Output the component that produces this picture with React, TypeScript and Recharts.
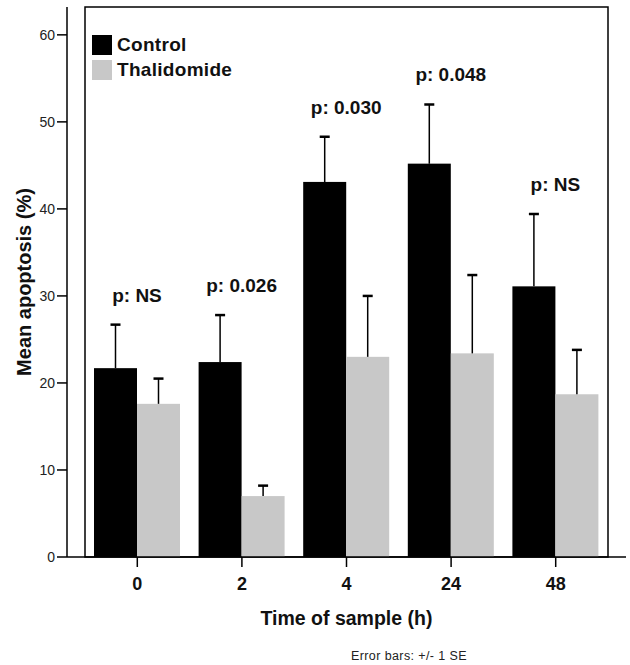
import { BarChart, Bar, XAxis, YAxis, Legend, Label, LabelList, ReferenceArea } from "recharts"

const categories = ["0", "2", "4", "24", "48"]
const controlMean = [21.7, 22.4, 43.1, 45.2, 31.1]
const controlSE = [5.0, 5.4, 5.2, 6.8, 8.3]
const thalMean = [17.6, 7.0, 23.0, 23.4, 18.7]
const thalSE = [2.9, 1.2, 7.0, 9.0, 5.1]
const pValues = ["p: NS", "p: 0.026", "p: 0.030", "p: 0.048", "p: NS"]
const yTicks = [0, 10, 20, 30, 40, 50, 60]
const yMax = 63.2

const data = categories.map((c, i) => ({
  time: c,
  control: controlMean[i],
  controlSE: controlSE[i],
  thal: thalMean[i],
  thalSE: thalSE[i],
  p: pValues[i],
}))

const FONT = "'Liberation Sans', Arial, sans-serif"

// bar + upward-only error bar (SPSS style), error length taken from the bar's own px/unit
const barWithError = (meanKey: string, seKey: string) => (props: any) => {
  const { x, y, width, height, fill, payload } = props
  const mean = payload[meanKey]
  const se = payload[seKey]
  const ppu = mean ? height / mean : 0
  const top = y - se * ppu
  const cx = x + width / 2
  return (
    <g>
      <rect x={x} y={y} width={width} height={height} fill={fill} />
      <line x1={cx} x2={cx} y1={y} y2={top} stroke="#000" strokeWidth={1.5} />
      <line x1={cx - 5} x2={cx + 5} y1={top} y2={top} stroke="#000" strokeWidth={2.5} />
    </g>
  )
}

const PLabel = (props: any) => {
  const { x, y, width, height, index, value } = props
  const i = index ?? 0
  const ppu = height / controlMean[i]
  const hi = Math.max(controlMean[i] + controlSE[i], thalMean[i] + thalSE[i])
  const top = y + height - hi * ppu
  return (
    <text x={x + width} y={top - 23} textAnchor="middle" fontFamily={FONT} fontWeight="bold" fontSize={19} fill="#111">
      {value}
    </text>
  )
}

const LegendBox = () => (
  <div style={{ fontFamily: FONT, fontWeight: "bold", fontSize: 19, color: "#111" }}>
    {[
      { name: "Control", color: "#000" },
      { name: "Thalidomide", color: "#c8c8c8" },
    ].map((it) => (
      <div key={it.name} style={{ display: "flex", alignItems: "center", height: 25 }}>
        <span style={{ width: 20, height: 20, background: it.color, marginRight: 5, display: "inline-block" }} />
        <span style={{ letterSpacing: 0.3 }}>{it.name}</span>
      </div>
    ))}
  </div>
)

export default function App() {
  return (
    <div style={{ position: "absolute", left: 0, top: 0 }}>
      <BarChart
        width={630}
        height={665}
        data={data}
        margin={{ top: 7, right: 4, left: 0, bottom: 0 }}
        barGap={0}
        barSize={43}
        style={{ fontFamily: FONT }}
      >
        <ReferenceArea y1={0} y2={yMax} fill="none" stroke="#000" strokeWidth={1.5} ifOverflow="visible" />
        <XAxis
          dataKey="time"
          height={108}
          padding={{ left: 18, right: 18 }}
          stroke="#000"
          strokeWidth={1.5}
          tickSize={10}
          tickMargin={10}
          tick={{ fill: "#111", fontSize: 18, fontWeight: "bold", fontFamily: FONT }}
        >
          <Label
            content={(p: any) => {
              const vb = p.viewBox
              return (
                <text x={vb.x + vb.width / 2} y={625} textAnchor="middle" fontFamily={FONT} fontWeight="bold" fontSize={19.5} fill="#111">
                  Time of sample (h)
                </text>
              )
            }}
          />
          <Label
            content={() => (
              <text x={409} y={660} textAnchor="middle" fontFamily={FONT} fontSize={12.5} letterSpacing={0.4} fill="#222">
                Error bars: +/- 1 SE
              </text>
            )}
          />
        </XAxis>
        <YAxis
          width={67}
          domain={[0, yMax]}
          ticks={yTicks}
          allowDataOverflow
          stroke="#000"
          strokeWidth={1.5}
          tickSize={10}
          tickMargin={2}
          tick={{ fill: "#222", fontSize: 14, fontFamily: FONT }}
        >
          <Label
            content={(p: any) => {
              const vb = p.viewBox
              const cy = vb.y + vb.height / 2
              return (
                <text x={31} y={cy} transform={`rotate(-90 31 ${cy})`} textAnchor="middle" fontFamily={FONT} fontWeight="bold" fontSize={20} fill="#111">
                  Mean apoptosis (%)
                </text>
              )
            }}
          />
        </YAxis>
        <Legend
          layout="vertical"
          align="center"
          verticalAlign="middle"
          wrapperStyle={{ top: 32, left: 92, width: "auto", height: "auto" }}
          content={() => <LegendBox />}
        />
        <Bar dataKey="control" name="Control" fill="#000" isAnimationActive={false} shape={barWithError("control", "controlSE")}>
          <LabelList dataKey="p" content={PLabel} />
        </Bar>
        <Bar dataKey="thal" name="Thalidomide" fill="#c8c8c8" isAnimationActive={false} shape={barWithError("thal", "thalSE")} />
      </BarChart>
    </div>
  )
}
